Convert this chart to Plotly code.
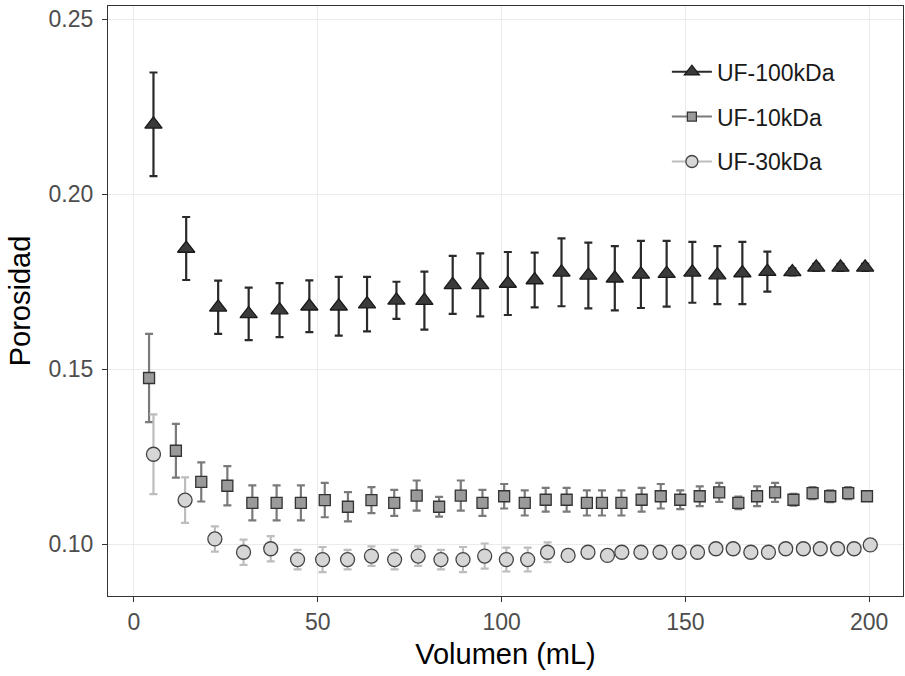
import plotly.graph_objects as go

# UF-100kDa (triangles)
vol_100 = [5.3, 14.2, 22.9, 31.2, 39.6, 47.7, 55.7, 63.4, 71.4, 79.0, 86.7, 94.2, 101.7, 109.0,
           116.3, 123.6, 130.8, 137.9, 144.9, 151.9, 158.7, 165.5, 172.3, 179.1, 185.6, 192.2, 198.9]
por_100 = [0.2200, 0.1845, 0.1677, 0.1658, 0.1669, 0.1680, 0.1680, 0.1686, 0.1697, 0.1696, 0.1741, 0.1741,
           0.1745, 0.1755, 0.1777, 0.1768, 0.1760, 0.1771, 0.1773, 0.1777, 0.1769, 0.1775, 0.1779, 0.1778,
           0.1791, 0.1791, 0.1791]
err_100 = [0.0148, 0.0090, 0.0076, 0.0075, 0.0077, 0.0074, 0.0084, 0.0078, 0.0053, 0.0083, 0.0083, 0.0090,
           0.0090, 0.0078, 0.0097, 0.0094, 0.0092, 0.0096, 0.0094, 0.0087, 0.0083, 0.0089, 0.0057, 0.0010,
           0.0010, 0.0010, 0.0010]

# UF-10kDa (squares)
vol_10 = [4.1, 11.4, 18.3, 25.4, 32.2, 38.8, 45.4, 51.9, 58.2, 64.6, 70.8, 76.9, 83.0, 88.9, 94.8,
          100.7, 106.3, 112.0, 117.7, 123.2, 127.3, 132.6, 138.1, 143.3, 148.6, 153.9, 159.2, 164.4,
          169.5, 174.4, 179.4, 184.6, 189.4, 194.3, 199.4]
por_10 = [0.1475, 0.1267, 0.1178, 0.1167, 0.1118, 0.1118, 0.1118, 0.1126, 0.1107, 0.1126, 0.1118, 0.1139,
          0.1107, 0.1139, 0.1118, 0.1137, 0.1118, 0.1127, 0.1127, 0.1118, 0.1118, 0.1118, 0.1127, 0.1137,
          0.1127, 0.1137, 0.1148, 0.1118, 0.1137, 0.1148, 0.1127, 0.1146, 0.1137, 0.1146, 0.1137]
err_10 = [0.0126, 0.0077, 0.0056, 0.0056, 0.0050, 0.0050, 0.0050, 0.0049, 0.0042, 0.0037, 0.0037, 0.0043,
          0.0028, 0.0043, 0.0037, 0.0035, 0.0036, 0.0034, 0.0034, 0.0036, 0.0036, 0.0036, 0.0034, 0.0035,
          0.0027, 0.0028, 0.0027, 0.0018, 0.0028, 0.0027, 0.0017, 0.0017, 0.0017, 0.0017, 0.0010]

# UF-30kDa (circles)
vol_30 = [5.3, 13.9, 22.0, 29.8, 37.2, 44.5, 51.3, 58.1, 64.6, 70.9, 77.3, 83.5, 89.5, 95.4, 101.3,
          107.1, 112.5, 118.1, 123.5, 128.8, 132.7, 137.9, 143.1, 148.3, 153.3, 158.3, 163.0, 167.8,
          172.6, 177.3, 182.1, 186.7, 191.4, 195.9, 200.3]
por_30 = [0.1257, 0.1126, 0.1015, 0.0977, 0.0987, 0.0956, 0.0956, 0.0956, 0.0966, 0.0956, 0.0966, 0.0956,
          0.0956, 0.0966, 0.0956, 0.0956, 0.0977, 0.0968, 0.0977, 0.0968, 0.0977, 0.0977, 0.0977, 0.0977,
          0.0977, 0.0987, 0.0987, 0.0977, 0.0977, 0.0987, 0.0987, 0.0987, 0.0987, 0.0987, 0.0998]
err_30 = [0.0114, 0.0065, 0.0036, 0.0036, 0.0036, 0.0028, 0.0036, 0.0028, 0.0028, 0.0028, 0.0028, 0.0028,
          0.0036, 0.0036, 0.0034, 0.0034, 0.0028, 0.0015, 0.0012, 0.0012, 0.0012, 0.0012, 0.0012, 0.0012,
          0.0012, 0.0015, 0.0012, 0.0010, 0.0010, 0.0012, 0.0010, 0.0010, 0.0010, 0.0010, 0.0010]

series = [
    ("UF-100kDa", vol_100, por_100, err_100, "triangle-up", 15, "#3a3a3a", "#1a1a1a", "#2a2a2a"),
    ("UF-10kDa", vol_10, por_10, err_10, "square", 11, "#9a9a9a", "#333333", "#7a7a7a"),
    ("UF-30kDa", vol_30, por_30, err_30, "circle", 14, "#d6d6d6", "#444444", "#bdbdbd"),
]

fig = go.Figure()

for name, x, y, e, sym, size, fill, edge, ecol in series:
    fig.add_trace(go.Scatter(
        x=x, y=y, mode="markers", name=name, showlegend=False,
        marker=dict(symbol=sym, size=size, color=fill, line=dict(color=edge, width=1.3)),
        error_y=dict(type="data", array=e, color=ecol, thickness=2.2, width=4),
    ))
    # legend key with a line through the marker, like ggplot
    fig.add_trace(go.Scatter(
        x=[None], y=[None], mode="lines+markers", name=name, legendgroup=name,
        line=dict(color=ecol, width=2),
        marker=dict(symbol=sym, size=size - 2, color=fill, line=dict(color=edge, width=1.3)),
    ))

axis_common = dict(
    showgrid=True, gridcolor="#ebebeb", gridwidth=1.3, zeroline=False,
    showline=True, linecolor="#333333", linewidth=1.2, mirror=True,
    ticks="outside", ticklen=5, tickwidth=1.2, tickcolor="#333333",
    tickfont=dict(size=23, color="#4d4d4d"), automargin=False,
)

fig.update_layout(
    width=905, height=676,
    plot_bgcolor="white", paper_bgcolor="white",
    font=dict(family="Arial, Liberation Sans, sans-serif"),
    margin=dict(l=108, r=2, t=6, b=80),
    xaxis=dict(range=[-7.07, 209.2], tickvals=[0, 50, 100, 150, 200],
               title=dict(text="Volumen (mL)", font=dict(size=29, color="black"), standoff=9),
               **axis_common),
    yaxis=dict(range=[0.0852, 0.2538], tickvals=[0.10, 0.15, 0.20, 0.25], tickformat=".2f",
               ticklabelstandoff=4,
               title=dict(text="Porosidad", font=dict(size=29, color="black"), standoff=9),
               **axis_common),
    legend=dict(x=0.703, y=0.925, xanchor="left", yanchor="top",
                font=dict(size=23, color="#1a1a1a"), bgcolor="rgba(255,255,255,0)",
                itemwidth=40, tracegroupgap=12),
)

# drop the default page margin so the figure sits at the window corner
fig.write_html("out.html", config={"displayModeBar": False},
               post_script="document.body.style.margin='0';")
